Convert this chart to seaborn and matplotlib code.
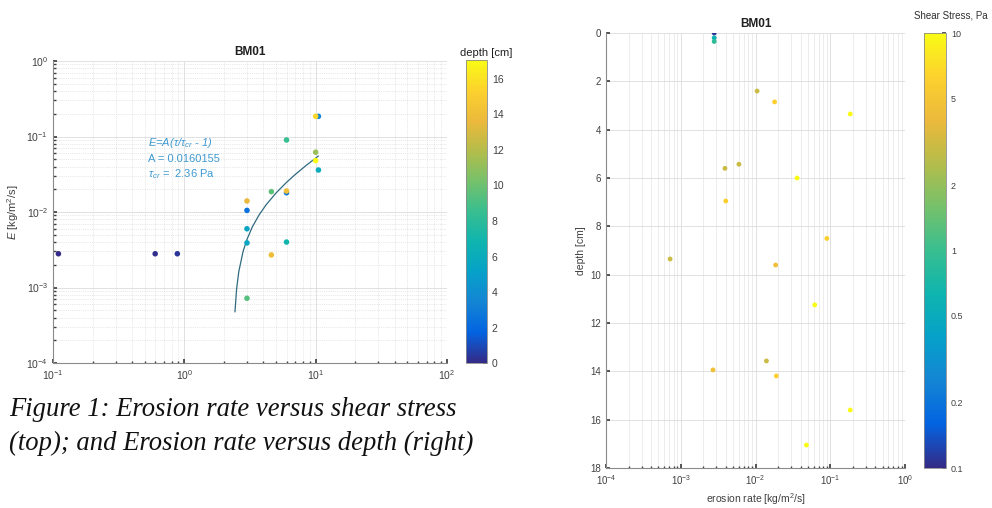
import numpy as np
import pandas as pd
import matplotlib
matplotlib.use("Agg")
import matplotlib.pyplot as plt
import seaborn as sns
from matplotlib.colors import LinearSegmentedColormap, Normalize, LogNorm
from matplotlib.cm import ScalarMappable
from matplotlib.ticker import LogLocator, NullFormatter, NullLocator, FixedFormatter

# ---- data ----
shear_stress = [0.11, 0.60, 0.885, 3.0, 6.0, 10.5, 3.0, 3.0, 10.5, 6.0,
                6.0, 3.0, 4.6, 10.0, 3.0, 4.6, 6.0, 10.0, 10.0]
erosion_rate = [0.0028, 0.0028, 0.0028, 0.0105, 0.018, 0.185, 0.0039, 0.0060, 0.036, 0.0040,
                0.090, 0.00072, 0.0186, 0.062, 0.014, 0.0027, 0.019, 0.185, 0.048]
depth = [0.0, 0.2, 0.35, 2.4, 2.85, 3.35, 5.6, 5.43, 6.0, 6.95,
         8.5, 9.35, 9.6, 11.25, 13.57, 13.94, 14.19, 15.6, 17.05]

# fitted curve E = A (tau/tau_cr - 1)
fit_tau = [2.43, 2.5, 2.6, 2.8, 3.0, 3.3, 3.7, 4.2, 5.0, 6.0, 7.0, 8.5, 10.5]
fit_E = [0.000475, 0.00095, 0.00163, 0.00299, 0.00434, 0.00638, 0.00909,
         0.01249, 0.01792, 0.0247, 0.03149, 0.04167, 0.05524]

depth_ticks = [0, 2, 4, 6, 8, 10, 12, 14, 16]
stress_ticks = [0.1, 0.2, 0.5, 1, 2, 5, 10]
stress_labels = ["0.1", "0.2", "0.5", "1", "2", "5", "10"]

df = pd.DataFrame({"tau": shear_stress, "E": erosion_rate, "depth": depth})
fit = pd.DataFrame({"tau": fit_tau, "E": fit_E})

# parula-like colormap
parula = LinearSegmentedColormap.from_list("parula", [
    (0.208, 0.166, 0.529), (0.012, 0.388, 0.882), (0.078, 0.521, 0.831),
    (0.024, 0.631, 0.788), (0.058, 0.708, 0.688), (0.220, 0.745, 0.565),
    (0.459, 0.757, 0.420), (0.702, 0.741, 0.294), (0.925, 0.725, 0.235),
    (0.988, 0.820, 0.180), (0.976, 0.984, 0.081)])

sns.set_theme(style="white")
plt.rcParams["font.family"] = ["Liberation Sans", "DejaVu Sans"]
plt.rcParams["mathtext.fontset"] = "custom"
plt.rcParams["mathtext.rm"] = "Liberation Sans"
plt.rcParams["mathtext.it"] = "Liberation Sans:italic"

tick_col = "#404040"

fig = plt.figure(figsize=(9.92, 5.08), dpi=100)
fig.patch.set_facecolor("white")


def matlab_axes(ax):
    for s in ["top", "right"]:
        ax.spines[s].set_visible(False)
    for s in ["left", "bottom"]:
        ax.spines[s].set_color("#8a8a8a")
        ax.spines[s].set_linewidth(0.8)
    ax.tick_params(which="both", direction="in", colors=tick_col, labelsize=7.5,
                   left=True, bottom=True)
    ax.tick_params(which="major", length=3)
    ax.tick_params(which="minor", length=1.8)
    ax.grid(which="major", color="#dcdcdc", lw=0.6, ls="-")


# ---- left: erosion rate vs shear stress ----
ax1 = fig.add_axes([0.0534, 0.2854, 0.3972, 0.5945])
depth_norm = Normalize(0, 17.07)
sns.scatterplot(data=df, x="tau", y="E", hue="depth", palette=parula, hue_norm=depth_norm,
                s=16, edgecolor="none", legend=False, ax=ax1, zorder=3)
sns.lineplot(data=fit, x="tau", y="E", sort=False, color="#2f6a80", lw=0.9, ax=ax1, zorder=2)
ax1.set_xscale("log")
ax1.set_yscale("log")
ax1.set_xlim(0.1, 100)
ax1.set_ylim(1e-4, 1)
ax1.xaxis.set_major_locator(LogLocator(base=10, numticks=10))
ax1.yaxis.set_major_locator(LogLocator(base=10, numticks=10))
ax1.xaxis.set_minor_locator(LogLocator(base=10, subs=np.arange(2, 10), numticks=20))
ax1.yaxis.set_minor_locator(LogLocator(base=10, subs=np.arange(2, 10), numticks=20))
ax1.xaxis.set_minor_formatter(NullFormatter())
ax1.yaxis.set_minor_formatter(NullFormatter())
matlab_axes(ax1)
ax1.grid(which="minor", color="#d4d4d4", lw=0.5, ls=":")
ax1.set_xlabel("")
ax1.set_ylabel(r"$E$ [kg/m$^2$/s]", fontsize=8, color=tick_col, labelpad=4)
ax1.set_title("BM01", fontsize=8.5, fontweight="bold", color="#202020", pad=4)

txt_col = "#3d9ad1"
ax1.text(0.241, 0.728, r"$E$=A($\tau$/$\tau_{cr}$ - 1)", style="italic", transform=ax1.transAxes,
         fontsize=8, color=txt_col, va="center")
ax1.text(0.241, 0.675, "A = 0.0160155", transform=ax1.transAxes,
         fontsize=8, color=txt_col, va="center")
ax1.text(0.241, 0.624, r"$\tau_{cr}$ =  2.36 Pa", transform=ax1.transAxes,
         fontsize=8, color=txt_col, va="center")

cax1 = fig.add_axes([0.4698, 0.2854, 0.0212, 0.5965])
cb1 = fig.colorbar(ScalarMappable(norm=depth_norm, cmap=parula), cax=cax1)
cb1.set_ticks(depth_ticks)
cb1.outline.set_edgecolor("#8a8a8a")
cb1.outline.set_linewidth(0.6)
cax1.tick_params(direction="in", length=3, colors=tick_col, labelsize=7.5)
fig.text(0.490, 0.895, "depth [cm]", fontsize=8, color="#202020", ha="center", va="center")

# ---- right: erosion rate vs depth ----
ax2 = fig.add_axes([0.6109, 0.0787, 0.3014, 0.8563])
stress_norm = LogNorm(0.1, 10)
sns.scatterplot(data=df, x="E", y="depth", hue="tau", palette=parula, hue_norm=stress_norm,
                s=12, edgecolor="none", legend=False, ax=ax2, zorder=3)
ax2.set_xscale("log")
ax2.set_xlim(1e-4, 1)
ax2.set_ylim(18, 0)
ax2.xaxis.set_major_locator(LogLocator(base=10, numticks=10))
ax2.xaxis.set_minor_locator(LogLocator(base=10, subs=np.arange(2, 10), numticks=20))
ax2.xaxis.set_minor_formatter(NullFormatter())
ax2.set_yticks(range(0, 19, 2))
matlab_axes(ax2)
ax2.tick_params(labelsize=7)
ax2.grid(which="minor", axis="x", color="#e4e4e4", lw=0.5, ls="-")
ax2.set_xlabel(r"erosion rate [kg/m$^2$/s]", fontsize=7.5, color=tick_col, labelpad=3)
ax2.set_ylabel("depth [cm]", fontsize=7.5, color=tick_col, labelpad=3)
ax2.set_title("BM01", fontsize=8.5, fontweight="bold", color="#202020", pad=4)

cax2 = fig.add_axes([0.9315, 0.0787, 0.0222, 0.8563])
cb2 = fig.colorbar(ScalarMappable(norm=stress_norm, cmap=parula), cax=cax2)
cb2.set_ticks(stress_ticks)
cax2.yaxis.set_major_formatter(FixedFormatter(stress_labels))
cax2.yaxis.set_minor_locator(NullLocator())
cax2.yaxis.set_minor_formatter(NullFormatter())
cb2.outline.set_edgecolor("#8a8a8a")
cb2.outline.set_linewidth(0.6)
cax2.tick_params(direction="in", length=3, colors=tick_col, labelsize=6.5)
fig.text(0.958, 0.970, "Shear Stress, Pa", fontsize=7, color="#303030", ha="center", va="center")

# ---- caption ----
cap_font = dict(family=["Liberation Serif", "DejaVu Serif"], style="italic",
                fontsize=19.2, color="#111111")
fig.text(0.009, 1 - 410 / 508, "Figure 1: Erosion rate versus shear stress", va="center", **cap_font)
fig.text(0.009, 1 - 443 / 508, "(top); and Erosion rate versus depth (right)", va="center", **cap_font)

fig.savefig("out.png", dpi=100, facecolor="white")
